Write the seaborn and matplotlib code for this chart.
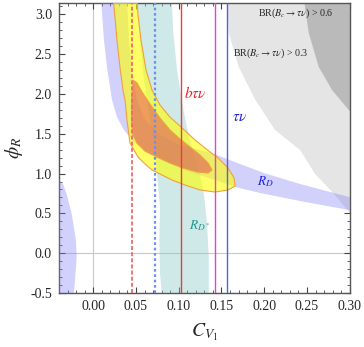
import numpy as np
import matplotlib
matplotlib.use("Agg")
import matplotlib.pyplot as plt
from matplotlib.ticker import MultipleLocator, FormatStrFormatter
import seaborn as sns

# region outlines (C_V1, phi_R)
# combined fit, outer contour
yellow_x = [0.0235, 0.0278, 0.0313, 0.0348, 0.0372, 0.0395, 0.0430, 0.0477, 0.0524, 0.0606,
            0.0688, 0.0805, 0.0922, 0.1074, 0.1250, 0.1425, 0.1577, 0.1659, 0.1647, 0.1577,
            0.1448, 0.1366, 0.1191, 0.1027, 0.0898, 0.0781, 0.0688, 0.0618, 0.0559, 0.0524, 0.0512]
yellow_y = [3.20, 2.677, 2.338, 2.049, 1.924, 1.673, 1.384, 1.296, 1.208, 1.120,
            1.045, 0.982, 0.919, 0.856, 0.794, 0.768, 0.794, 0.844, 0.944, 1.070,
            1.208, 1.271, 1.421, 1.585, 1.708, 1.861, 2.049, 2.300, 2.677, 2.991, 3.20]

# combined fit, inner contour
orange_x = [0.0469, 0.0448, 0.0448, 0.0465, 0.0512, 0.0606, 0.0746, 0.0898, 0.1050, 0.1214,
            0.1343, 0.1389, 0.1343, 0.1249, 0.1132, 0.1015, 0.0898, 0.0781, 0.0664, 0.0571, 0.0512]
orange_y = [2.173, 1.924, 1.673, 1.484, 1.384, 1.283, 1.208, 1.133, 1.070, 1.020,
            1.007, 1.045, 1.133, 1.233, 1.334, 1.434, 1.547, 1.697, 1.873, 2.024, 2.137]

# R_D band, main branch (lower edge then upper edge back)
rd_x = [0.0091, 0.0126, 0.0161, 0.0220, 0.0278, 0.0360, 0.0454, 0.0606, 0.0840, 0.1132,
        0.1425, 0.1659, 0.1951, 0.2419, 0.2992, 0.3120,
        0.3120, 0.2992, 0.2418, 0.1997, 0.1717, 0.1413, 0.1249, 0.1015, 0.0781, 0.0606,
        0.0512, 0.0454, 0.0419, 0.0395]
rd_y = [3.20, 2.677, 2.338, 1.924, 1.710, 1.547, 1.421, 1.271, 1.145, 1.020,
        0.919, 0.831, 0.756, 0.655, 0.542, 0.517,
        0.668, 0.706, 0.869, 1.006, 1.120, 1.246, 1.296, 1.359, 1.484, 1.673,
        1.924, 2.300, 2.677, 3.20]

# R_D band, small branch at the left
rd2_x = [-0.050, -0.040, -0.0353, -0.031, -0.0251, -0.0201, -0.0193, -0.0213, -0.0225, -0.0225, -0.050]
rd2_y = [0.95, 0.932, 0.869, 0.743, 0.492, 0.157, -0.051, -0.345, -0.50, -0.60, -0.60]

# R_D* band
rds_x = [0.0918, 0.0937, 0.0977, 0.1035, 0.1094, 0.1132, 0.1191, 0.1249, 0.1296, 0.1331,
         0.1351, 0.1351, 0.1348,
         0.0801, 0.0801, 0.0781, 0.0773, 0.0781, 0.0746, 0.0723, 0.0664, 0.0594, 0.0547, 0.0516]
rds_y = [3.20, 2.765, 2.338, 1.924, 1.585, 1.421, 1.195, 0.982, 0.731, 0.367,
         -0.048, -0.500, -0.60,
         -0.60, -0.50, -0.25, 0.166, 0.580, 0.995, 1.296, 1.673, 2.175, 2.677, 3.20]

# BR(Bc -> tau nu) > 0.3 and > 0.6
br3_x = [0.1565, 0.1585, 0.1702, 0.1896, 0.2126, 0.2419, 0.2594, 0.2805, 0.2992, 0.3073, 0.32, 0.32]
br3_y = [3.20, 2.765, 2.338, 1.924, 1.547, 1.296, 0.995, 0.756, 0.517, 0.418, 0.418, 3.20]
br6_x = [0.2462, 0.2520, 0.2637, 0.2793, 0.2988, 0.3074, 0.32, 0.32]
br6_y = [3.20, 2.765, 2.338, 2.049, 1.798, 1.698, 1.698, 3.20]

# vertical lines: position, colour, style
vlines_x = [0.0457, 0.0723, 0.1021, 0.1428, 0.1568]
vlines_c = ["#f06a6a", "#6c8ff0", "#f03a3a", "#e040e0", "#4a64e6"]
vlines_ls = [(0, (2.2, 1.2)), (0, (1.2, 1.2)), "-", "-", "-"]
vlines_lw = [1.3, 1.6, 1.0, 1.0, 1.0]

sns.set_theme(style="ticks")
plt.rcParams['font.family'] = ['Liberation Serif', 'DejaVu Serif']
plt.rcParams['mathtext.fontset'] = 'stix'

fig = plt.figure(figsize=(3.64, 3.47), dpi=100)
ax = fig.add_axes([0.162, 0.1556, 0.799, 0.8357])

ax.axvline(0, color="#c8c8c8", lw=0.8, zorder=0)
ax.axhline(0, color="#c8c8c8", lw=0.8, zorder=0)

ax.fill(br3_x, br3_y, color="#e5e5e5", lw=0, zorder=1)
ax.fill(br6_x, br6_y, color="#bababa", lw=0, zorder=1)
ax.fill(rds_x, rds_y, color=(0.55, 0.80, 0.78), alpha=0.42, lw=0, zorder=2)
ax.fill(rd_x, rd_y, color=(0.5, 0.5, 0.97), alpha=0.36, lw=0, zorder=3)
ax.fill(rd2_x, rd2_y, color=(0.5, 0.5, 0.97), alpha=0.36, lw=0, zorder=3)
ax.fill(yellow_x, yellow_y, facecolor=(1.0, 1.0, 0.0), alpha=0.6, edgecolor="none", zorder=4)
ax.plot(yellow_x, yellow_y, color="#f0a040", lw=0.8, zorder=5)
ax.fill(orange_x, orange_y, facecolor=(0.88, 0.30, 0.34), alpha=0.55, edgecolor="none", zorder=5)
ax.fill(orange_x, orange_y, facecolor="none", edgecolor="#f0a040", lw=0.8, zorder=5)

for xv, c, ls, lw in zip(vlines_x, vlines_c, vlines_ls, vlines_lw):
    ax.axvline(xv, color=c, ls=ls, lw=lw, zorder=6)

ax.text(0.1058, 2.01, r"$b\tau\nu$", color="#f02020", fontsize=11, va="center", ha="left")
ax.text(0.1623, 1.70, r"$\tau\nu$", color="#2020e0", fontsize=11, va="center", ha="left")
ax.text(0.1916, 0.90, r"$R_D$", color="#2020e0", fontsize=9.5, va="center", ha="left")
ax.text(0.1117, 0.345, r"$R_{D^*}$", color="#20958c", fontsize=9.5, va="center", ha="left")
ax.text(0.1927, 3.01, r"BR($B_c\to\tau\nu$) > 0.6", fontsize=7.2, va="center", ha="left")
ax.text(0.1636, 2.51, r"BR($B_c\to\tau\nu$) > 0.3", fontsize=7.2, va="center", ha="left")

ax.set_xlim(-0.04, 0.30)
ax.set_ylim(-0.5, np.pi)
ax.xaxis.set_major_locator(MultipleLocator(0.05))
ax.xaxis.set_minor_locator(MultipleLocator(0.01))
ax.yaxis.set_major_locator(MultipleLocator(0.5))
ax.yaxis.set_minor_locator(MultipleLocator(0.1))
ax.xaxis.set_major_formatter(FormatStrFormatter("%.2f"))
ax.yaxis.set_major_formatter(FormatStrFormatter("%.1f"))
ax.tick_params(which="both", direction="in", top=True, right=True, color="#444444",
               labelsize=10, pad=5)
ax.tick_params(which="major", length=4, width=0.8)
ax.tick_params(which="minor", length=2, width=0.6)
for s in ax.spines.values():
    s.set_color("#555555")
    s.set_linewidth(1.0)

ax.set_xlabel(r"$C_{V_1}$", fontsize=14, labelpad=6)
ax.set_ylabel(r"$\phi_R$", fontsize=14, labelpad=4)

fig.savefig("out.png", dpi=100)
